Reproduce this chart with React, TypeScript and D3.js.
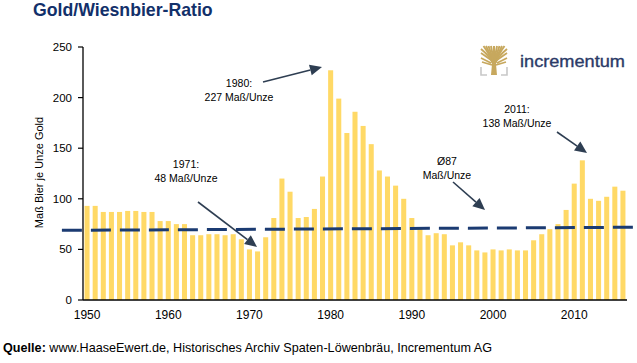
import React from 'react'
import * as d3 from 'd3'

// Gold/Wiesnbier ratio (Maß beer per ounce of gold), 1950-2016
const firstYear = 1950
const lastYear = 2016
const years = d3.range(firstYear, lastYear + 1)
const ratio = [
	93, 93, 87, 87, 87, 88, 88, 87, 87, 78, // 1950-59
	78, 75, 75, 64, 64, 65, 65, 64, 65, 60, // 1960-69
	50, 48, 62, 81, 120, 107, 81, 82, 90, 122, // 1970-79
	227, 199, 165, 186, 172, 154, 128, 122, 113, 100, // 1980-89
	81, 71, 64, 66, 65, 54, 57, 54, 49, 47, // 1990-99
	50, 49, 50, 49, 49, 59, 65, 70, 75, 89, // 2000-09
	115, 138, 100, 98, 102, 112, 108, // 2010-16
]
const yTicks = [0, 50, 100, 150, 200, 250]
const xTicks = [1950, 1960, 1970, 1980, 1990, 2000, 2010]
// dashed trend line (start / end)
const trendYears = [1946.9, 2017.4]
const trendValues = [68.8, 71.9]

const annotations = [
	{ lines: ['1980:', '227 Maß/Unze'], x: 239, y: 87, from: [263, 82], to: [322, 67] },
	{ lines: ['1971:', '48 Maß/Unze'], x: 186, y: 168, from: [198, 202], to: [257, 247] },
	{ lines: ['Ø87', 'Maß/Unze'], x: 447, y: 165, from: [453, 182], to: [485, 210] },
	{ lines: ['2011:', '138 Maß/Unze'], x: 517, y: 113, from: [557, 132], to: [587, 153] },
]

const font = '"Liberation Sans", Arial, sans-serif'
const W = 637
const H = 363
const left = 83
const right = 627
const top = 47
const bottom = 300

function Arrow({ from, to }) {
	const [x1, y1] = from
	const [x2, y2] = to
	const a = Math.atan2(y2 - y1, x2 - x1)
	const len = 12
	const hw = 5.5
	const bx = x2 - len * Math.cos(a)
	const by = y2 - len * Math.sin(a)
	const px = -Math.sin(a) * hw
	const py = Math.cos(a) * hw
	return (
		<g>
			<line x1={x1} y1={y1} x2={bx} y2={by} stroke="#2E3E52" strokeWidth={1.6} />
			<polygon
				points={`${x2},${y2} ${bx + px},${by + py} ${bx - px},${by - py}`}
				fill="#2E3E52"
			/>
		</g>
	)
}

function Logo() {
	const gold = '#C7A85E'
	const tips = [481, 483.5, 486, 488.5, 491, 494, 497, 499.5, 502, 504.5, 507]
	return (
		<g>
			{tips.map((tx, i) => (
				<path
					key={i}
					d={`M494,66 Q${494 + (tx - 494) * 0.3},56 ${tx},${i === 0 || i === tips.length - 1 ? 49 : 46}`}
					fill="none"
					stroke={gold}
					strokeWidth={2}
				/>
			))}
			<path
				d="M481,53 L491,60 M507,53 L497,60 M481,58 L491,63 M507,58 L497,63 M482,62 L492,65 M506,62 L496,65"
				stroke={gold}
				strokeWidth={1.8}
			/>
			<path d="M491,75 L492.3,61 L495.7,61 L497,75 Z" fill={gold} />
			<path d="M481,67 V75 H487 M507,67 V75 H501" fill="none" stroke="#C8C8C8" strokeWidth={1.6} />
			<text
				x={520}
				y={67}
				fontFamily={font}
				fontSize={17}
				fill="#2B3A67"
				stroke="#2B3A67"
				strokeWidth={0.35}
				textLength={105}
				lengthAdjust="spacingAndGlyphs"
			>
				incrementum
			</text>
		</g>
	)
}

export default function App() {
	const x = d3
		.scaleBand()
		.domain(years.map(String))
		.range([left, right])
		.paddingInner(0.38)
		.paddingOuter(0.19)
	// continuous year -> band centre
	const xLin = d3
		.scaleLinear()
		.domain([firstYear, lastYear])
		.range([x(String(firstYear)) + x.bandwidth() / 2, x(String(lastYear)) + x.bandwidth() / 2])
	const y = d3.scaleLinear().domain([0, 250]).range([bottom, top])

	const trend = d3
		.line()
		.x((d) => xLin(d[0]))
		.y((d) => y(d[1]))(trendYears.map((yr, i) => [yr, trendValues[i]]))

	return (
		<svg
			width={W}
			height={H}
			style={{ position: 'absolute', left: 0, top: 0, background: '#fff' }}
			fontFamily={font}
		>
			<text x={33} y={16} fontSize={17.7} fontWeight="bold" fill="#12306A">
				Gold/Wiesnbier-Ratio
			</text>

			<Logo />

			{/* bars */}
			{ratio.map((v, i) => (
				<rect
					key={years[i]}
					x={x(String(years[i]))}
					y={y(v)}
					width={x.bandwidth()}
					height={bottom - y(v)}
					fill="#FFD966"
				/>
			))}

			{/* y axis */}
			<line x1={left} x2={left} y1={top} y2={bottom} stroke="#000" strokeWidth={1.3} />
			{yTicks.map((t) => (
				<g key={t}>
					<line x1={left - 5} x2={left} y1={y(t)} y2={y(t)} stroke="#000" strokeWidth={1.2} />
					<text x={72} y={y(t)} dy="0.35em" textAnchor="end" fontSize={11.5} fill="#000">
						{t}
					</text>
				</g>
			))}
			<text
				transform={`translate(43,${(top + bottom) / 2 - 1}) rotate(-90)`}
				textAnchor="middle"
				fontSize={11}
				fill="#000"
			>
				Maß Bier je Unze Gold
			</text>

			{/* x axis */}
			<line x1={left} x2={right} y1={bottom} y2={bottom} stroke="#000" strokeWidth={1.5} />
			{xTicks.map((t) => (
				<text
					key={t}
					x={x(String(t)) + x.bandwidth() / 2}
					y={bottom + 19}
					textAnchor="middle"
					fontSize={12}
					fill="#000"
				>
					{t}
				</text>
			))}

			{/* average / trend line */}
			<path d={trend} fill="none" stroke="#1B3B72" strokeWidth={3} strokeDasharray="20 9" />

			{/* annotations */}
			{annotations.map((a, i) => (
				<g key={i}>
					{a.lines.map((l, j) => (
						<text key={j} x={a.x} y={a.y + j * 13.5} textAnchor="middle" fontSize={10.5} fill="#000">
							{l}
						</text>
					))}
					<Arrow from={a.from} to={a.to} />
				</g>
			))}

			<text x={3} y={352} fontSize={12.6} fill="#000" textLength={489} lengthAdjust="spacing">
				<tspan fontWeight="bold">Quelle:</tspan> www.HaaseEwert.de, Historisches Archiv Spaten-Löwenbräu, Incrementum AG
			</text>
		</svg>
	)
}
